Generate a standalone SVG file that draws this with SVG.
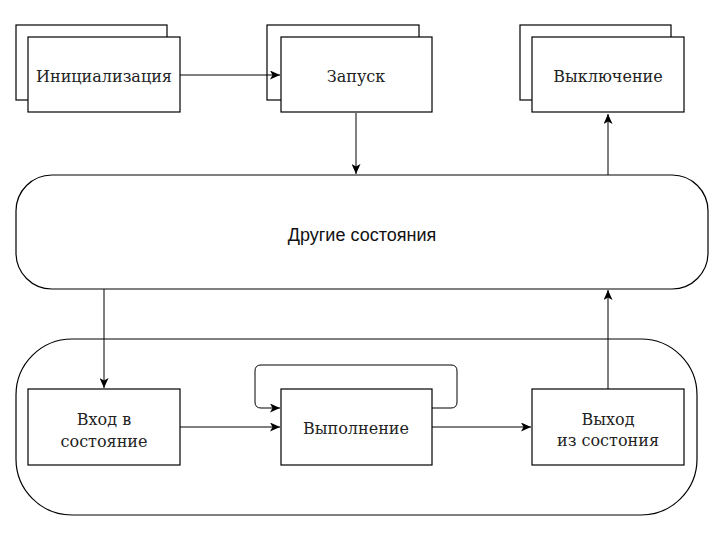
<svg xmlns="http://www.w3.org/2000/svg" width="718" height="542" viewBox="0 0 718 542">
<style>
.box{fill:#fff;stroke:#000;stroke-width:1.2}
.cont{fill:#fff;stroke:#000;stroke-width:1.2}
.edge{fill:none;stroke:#000;stroke-width:1}
.t{font-family:"DejaVu Serif",serif;font-size:16px;fill:#222;text-anchor:middle}
.s{font-family:"Liberation Sans",Arial,sans-serif;font-size:18px;fill:#111;text-anchor:middle}
</style>
<defs>
<marker id="arr" markerUnits="userSpaceOnUse" markerWidth="11" markerHeight="9" refX="10" refY="4.5" orient="auto">
<path d="M0,0 L10,4.5 L0,9 L2.5,4.5 z" fill="#000"/>
</marker>
</defs>
<rect width="718" height="542" fill="#fff"/>
<g id="container-state">
<rect class="cont" x="16" y="339" width="681" height="176" rx="56" ry="56"/>
</g>
<g id="other-states">
<rect class="cont" x="16" y="175" width="692" height="114" rx="36" ry="36"/>
<text class="s" x="362" y="241">Другие состояния</text>
</g>
<g id="init">
<rect class="box" x="16" y="25" width="151" height="75"/>
<rect class="box" x="28" y="37" width="152" height="75"/>
<text class="t" x="104" y="82">Инициализация</text>
</g>
<g id="launch">
<rect class="box" x="267" y="25" width="152" height="75"/>
<rect class="box" x="281" y="37" width="151" height="75"/>
<text class="t" x="356" y="82">Запуск</text>
</g>
<g id="shutdown">
<rect class="box" x="520" y="25" width="151" height="75"/>
<rect class="box" x="532" y="37" width="152" height="75"/>
<text class="t" x="608" y="82">Выключение</text>
</g>
<g id="enter">
<rect class="box" x="28" y="389" width="152" height="76"/>
<text class="t" x="104" y="425">Вход в</text>
<text class="t" x="104" y="447">состояние</text>
</g>
<g id="execute">
<rect class="box" x="281" y="389" width="151" height="76"/>
<text class="t" x="356" y="434">Выполнение</text>
</g>
<g id="exit">
<rect class="box" x="532" y="389" width="152" height="76"/>
<text class="t" x="608" y="425">Выход</text>
<text class="t" x="608" y="446">из состония</text>
</g>
<g id="connectors">
<path class="edge" d="M180,75 L280,75" marker-end="url(#arr)"/>
<path class="edge" d="M356,113 L356,174" marker-end="url(#arr)"/>
<path class="edge" d="M608,175 L608,114" marker-end="url(#arr)"/>
<path class="edge" d="M104,289 L104,388" marker-end="url(#arr)"/>
<path class="edge" d="M608,389 L608,290" marker-end="url(#arr)"/>
<path class="edge" d="M180,427 L280,427" marker-end="url(#arr)"/>
<path class="edge" d="M432,427 L531,427" marker-end="url(#arr)"/>
<path class="edge" d="M432,408 L451,408 Q457,408 457,402 L457,371 Q457,365 451,365 L261,365 Q255,365 255,371 L255,402 Q255,408 261,408 L280,408" marker-end="url(#arr)"/>
</g>
</svg>
